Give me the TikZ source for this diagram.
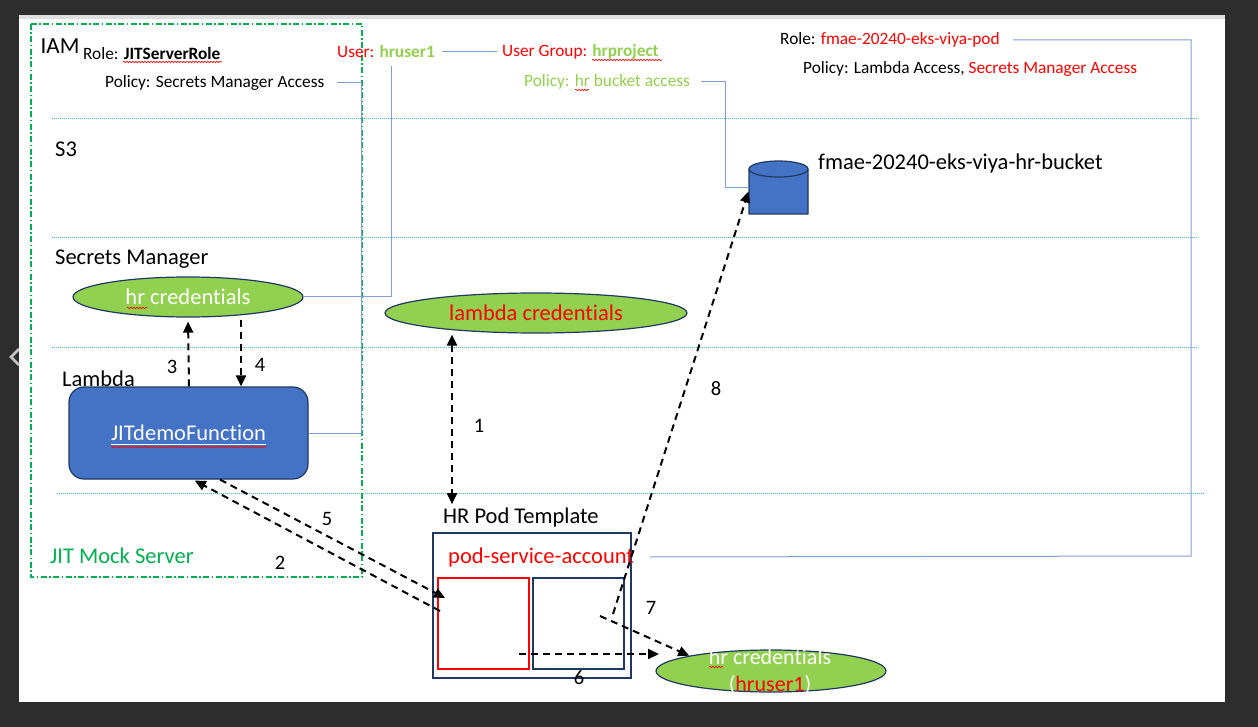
\documentclass[tikz,border=0pt]{standalone}
\usepackage{fontspec}
\setmainfont{Carlito}[Ligatures=NoCommon]
\usetikzlibrary{arrows.meta,shapes.geometric,decorations.pathmorphing}
\definecolor{okgreen}{HTML}{00B050}
\definecolor{lgreen}{HTML}{92D050}
\definecolor{mblue}{HTML}{4472C4}
\definecolor{navy}{HTML}{203864}
\definecolor{dotblue}{HTML}{3FB6E8}
\definecolor{conn}{HTML}{7F9FD6}
\definecolor{bgdark}{HTML}{2D2D2D}
\definecolor{sred}{HTML}{FF0000}
\tikzset{
  lbl/.style={anchor=west, inner sep=0pt, font=\fontsize{22.5}{26}\selectfont},
  small/.style={anchor=west, inner sep=0pt, font=\fontsize{17.3}{20}\selectfont},
  num/.style={inner sep=0pt, font=\fontsize{20.5}{22}\selectfont},
  lane/.style={dotblue, line width=0.8pt, dash pattern=on 1pt off 1pt},
  conline/.style={conn, line width=1pt},
  flow/.style={black, line width=2pt, dash pattern=on 7pt off 5pt, -{Triangle[length=11pt,width=10pt]}},
  cred/.style={ellipse, draw=navy, fill=lgreen, line width=1.2pt, inner sep=0pt},
  squig/.style={sred, line width=0.6pt, decorate, decoration={snake, amplitude=0.8pt, segment length=3pt}},
}
\begin{document}
\begin{tikzpicture}[x=1pt, y=-1pt]
\useasboundingbox (0,0) rectangle (1258,727);
% screen background
\fill[bgdark] (0,0) rectangle (1258,727);
\fill[white] (19,15) rectangle (1225,702);
\fill[gray!25] (19,15) rectangle (1225,19);
\draw[gray!45, line width=2.5pt] (19,349) -- (11,357) -- (19,365);

% swim lanes
\draw[lane] (52,118) -- (1198,118);
\draw[lane] (52,237) -- (1198,237);
\draw[lane] (52,347) -- (1198,347);
\draw[lane] (57,493) -- (1205,493);

% JIT Mock Server box
\draw[okgreen, line width=1.3pt, dash pattern=on 6pt off 2.5pt on 1.5pt off 2.5pt] (31,24) rectangle (362,577);

% lane labels
\node[lbl, font=\fontsize{23}{27}\selectfont] (iam) at (40.5,46) {IAM};
\node[lbl] (s3) at (55,149) {S3};
\node[lbl] (sm) at (55,259) {Secrets Manager};
\node[lbl] (lam) at (62,379) {Lambda};
\node[lbl, text=okgreen] (mock) at (50,556) {JIT Mock Server};

% IAM texts
\node[small] (role1) at (83,54) {Role: \textbf{JITServerRole}};
\node[small] (pol1) at (105,83) {Policy: Secrets Manager Access};
\node[small] (user) at (337,52) {\textcolor{sred}{User:} \textcolor{lgreen}{\textbf{hruser1}}};
\node[small] (grp) at (502,52) {\textcolor{sred}{User Group:} \textcolor{lgreen}{\textbf{hrproject}}};
\node[small, text=lgreen] (pol2) at (524,82) {Policy: hr bucket access};
\node[small] (role2) at (780,40) {Role: \textcolor{sred}{fmae-20240-eks-viya-pod}};
\node[small] (pol3) at (803,69) {Policy: Lambda Access, \textcolor{sred}{Secrets Manager Access}};

% credentials and function
\node[cred, minimum width=230pt, minimum height=40pt, text=white, font=\fontsize{22.5}{26}\selectfont] (hrc) at (188,297) {hr credentials};
\node[cred, minimum width=302pt, minimum height=40pt, text=sred, font=\fontsize{22.5}{26}\selectfont] (lc) at (536,313) {lambda credentials};
\node[draw=navy, fill=mblue, line width=1.2pt, rounded corners=15pt, minimum width=239pt, minimum height=92pt, text=white, font=\fontsize{22.5}{26}\selectfont] (jit) at (188.5,433) {JITdemoFunction};
\draw[white, line width=0.8pt] (111,444.5) -- (266,444.5);

% bucket
\node[minimum width=59pt, minimum height=53pt, inner sep=0pt] (bucket) at (778.5,187.5) {};
\path[draw=navy, fill=mblue, line width=1.2pt] (749,169) -- (749,214) -- (808,214) -- (808,169) arc[start angle=0, end angle=180, x radius=29.5pt, y radius=8pt] -- cycle;
\draw[navy, line width=1.2pt] (749,169) arc[start angle=180, end angle=360, x radius=29.5pt, y radius=8pt];
\node[lbl] (bkl) at (818,164) {fmae-20240-eks-viya-hr-bucket};

% pod
\node[lbl] (podlbl) at (443,517) {HR Pod Template};
\node[draw=navy, line width=1.3pt, minimum width=198pt, minimum height=145pt, inner sep=0pt] (pod) at (532,605.5) {};
\node[lbl, text=sred] (psa) at (448,557) {pod-service-account};
\node[draw=sred, line width=1.3pt, minimum width=91pt, minimum height=91pt, inner sep=0pt] (rbox) at (483.5,623.5) {};
\node[draw=navy, line width=1.3pt, minimum width=91pt, minimum height=91pt, inner sep=0pt] (nbox) at (578.5,623.5) {};

% hr credentials (hruser1)
\node[cred, minimum width=230pt, minimum height=42pt] (hrc2) at (771,671) {};
\node[inner sep=0pt, align=center, text=white, font=\fontsize{22}{27}\selectfont] (hrc2t) at (770,671.5) {hr credentials\\(\textcolor{sred}{hruser1})};

% spell-check squiggles
\draw[squig] (123,62) -- (222,62);
\draw[squig] (592,60) -- (662,60);
\draw[squig] (575,90) -- (589,90);
\draw[squig] (127,308) -- (147,308);
\draw[squig] (111,447) -- (266,447);
\draw[squig] (709,667) -- (723,667);

% IAM connector lines
\coordinate (ux) at (391,66);
\coordinate (rcorner) at (1191,556);
\draw[conline] ([xshift=13pt]pol1.east) -| ([xshift=53pt]jit.east) -- (jit.east);
\draw[conline] ([xshift=7pt]user.east) -- ([xshift=-5pt]grp.west);
\draw[conline] (ux) |- (hrc.east);
\draw[conline] ([xshift=11pt]pol2.east) -| ([xshift=-23pt]bucket.west) -- (bucket.west);
\draw[conline] ([xshift=13pt]role2.east) -| (rcorner) -- ([xshift=16pt]psa.east);

% flows
\coordinate (a2s) at (440,611);
\coordinate (a5e) at (445,598);
\coordinate (a6s) at (519,654);
\coordinate (a6e) at (659,654);
\coordinate (a7s) at (600,616);
\coordinate (a8s) at (613,614);
\draw[flow, shorten >=4pt] ([xshift=0.5pt]jit.north) -- (hrc.south);
\draw[flow, shorten <=2pt] ([xshift=53pt]hrc.south) -- ([xshift=52.5pt]jit.north);
\draw[flow, {Triangle[length=11pt,width=10pt]}-{Triangle[length=11pt,width=10pt]}, shorten <=1pt, shorten >=3pt] ([xshift=-84pt]lc.south) -- ([xshift=-84pt]lc.south |- podlbl.north);
\draw[flow, shorten >=2pt] (a2s) -- ([xshift=4.5pt]jit.south);
\draw[flow] ([xshift=31.5pt]jit.south) -- (a5e);
\draw[flow] (a6s) -- (a6e);
\draw[flow] (a7s) -- (hrc2.north west);
\draw[flow, shorten >=1pt] (a8s) -- ([yshift=-3pt]bucket.west);

% numbers
\node[num] (n1) at (479,426) {1};
\node[num] (n2) at (280,563) {2};
\node[num] (n3) at (172,367) {3};
\node[num] (n4) at (260,365) {4};
\node[num] (n5) at (327,519) {5};
\node[num] (n6) at (579,678) {6};
\node[num] (n7) at (651,608) {7};
\node[num] (n8) at (716,389) {8};
\end{tikzpicture}
\end{document}
